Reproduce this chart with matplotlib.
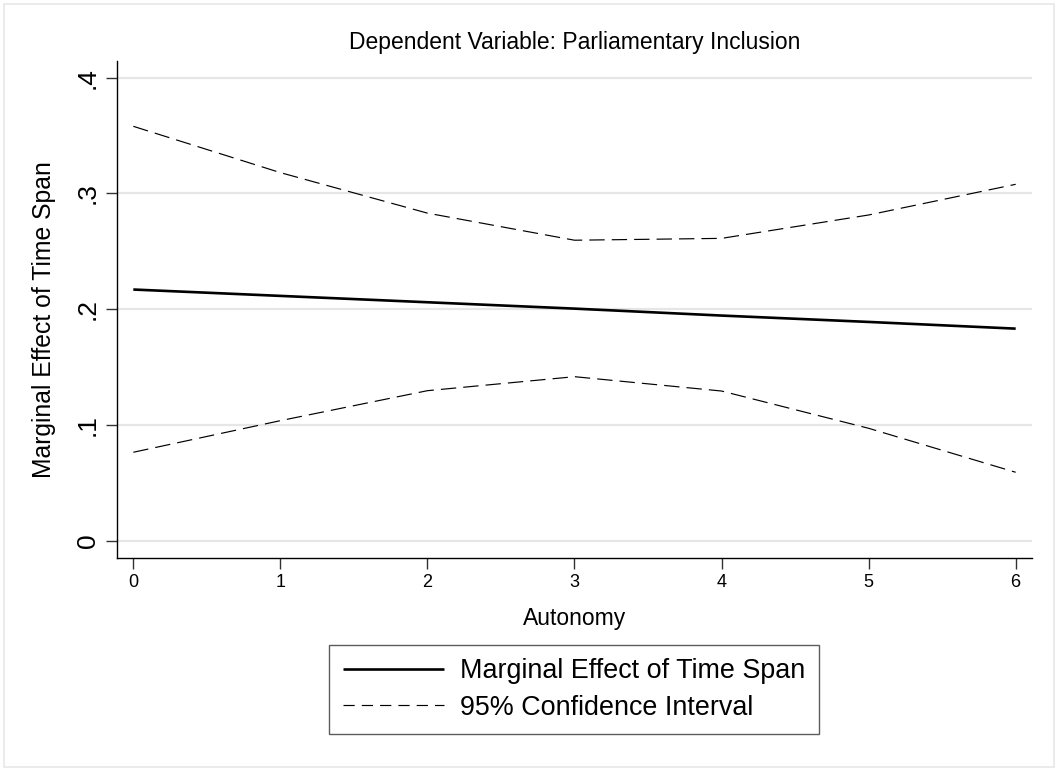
import matplotlib
matplotlib.use("Agg")
import matplotlib.pyplot as plt
from matplotlib.patches import Rectangle
from matplotlib.lines import Line2D
import numpy as np

# ============================
# DATOS
# ============================
autonomia = [0, 1, 2, 3, 4, 5, 6]
efecto_marginal = [0.217, 0.2115, 0.206, 0.2005, 0.1945, 0.189, 0.1832]
ic_superior = [0.358, 0.318, 0.283, 0.2596, 0.2612, 0.2814, 0.3079]
ic_inferior = [0.0764, 0.1037, 0.1296, 0.1417, 0.1293, 0.0971, 0.0591]

y_ticks = [0, 0.1, 0.2, 0.3, 0.4]
y_tick_labels = ["0", ".1", ".2", ".3", ".4"]

titulo = "Dependent Variable: Parliamentary Inclusion"
etiqueta_x = "Autonomy"
etiqueta_y = "Marginal Effect of Time Span"
leyenda = ["Marginal Effect of Time Span", "95% Confidence Interval"]

plt.rcParams["font.family"] = ["Liberation Sans", "DejaVu Sans"]

W, H = 1058, 769
fig = plt.figure(figsize=(W / 100, H / 100), dpi=100)
fig.patch.set_facecolor("white")

# marco gris exterior (estilo Stata)
fig.patches.append(Rectangle((4 / W, 2 / H), 1050 / W, 763 / H, transform=fig.transFigure,
                             facecolor="none", edgecolor="#e8e8e8", linewidth=1.2))

# posicion del area de dibujo en pixeles
izq, der, arriba, abajo = 116.7, 1032.3, 60.7, 557.7
ax = fig.add_axes([izq / W, 1 - abajo / H, (der - izq) / W, (abajo - arriba) / H])

ax.set_xlim(-0.113, 6.113)
ax.set_ylim(-0.0147, 0.4147)

for yt in y_ticks:
    ax.axhline(yt, color="#e6e6e6", linewidth=1.6, zorder=0)

ax.plot(autonomia, efecto_marginal, color="black", linewidth=1.9, solid_capstyle="butt")
ax.plot(autonomia, ic_superior, color="black", linewidth=0.85, dashes=(13, 6))
ax.plot(autonomia, ic_inferior, color="black", linewidth=0.85, dashes=(13, 6))

ax.spines["top"].set_visible(False)
ax.spines["right"].set_visible(False)
ax.spines["left"].set_linewidth(1.0)
ax.spines["bottom"].set_linewidth(1.0)

ax.set_xticks(autonomia)
ax.set_xticklabels([str(a) for a in autonomia], fontsize=13)
ax.set_yticks(y_ticks)
ax.set_yticklabels(y_tick_labels, fontsize=19, rotation=90, va="center")
ax.tick_params(axis="both", direction="out", length=8, width=1.0, color="#333333")
ax.tick_params(axis="x", pad=4)
ax.tick_params(axis="y", pad=4)

fig.text(575 / W, 1 - 43 / H, titulo, ha="center", va="center", fontsize=16.5)
fig.text(575 / W, 1 - 619 / H, etiqueta_x, ha="center", va="center", fontsize=16.5)
fig.text(44 / W, 1 - 320 / H, etiqueta_y, ha="center", va="center", rotation=90, fontsize=17.8)

# lineas de la leyenda (el guion de la leyenda es mas corto)
h1 = Line2D([], [], color="black", linewidth=1.9, solid_capstyle="butt")
h2 = Line2D([], [], color="black", linewidth=0.85, dashes=(9.5, 6))
leg = fig.legend([h1, h2], leyenda, loc="center", bbox_to_anchor=(574 / W, 1 - 689.5 / H),
                 fontsize=19.4, frameon=True, fancybox=False, handlelength=3.74,
                 handletextpad=0.6, labelspacing=0.4, borderpad=0.5)
leg.get_frame().set_edgecolor("#333333")
leg.get_frame().set_linewidth(1.0)

fig.savefig("out.png", dpi=100)
